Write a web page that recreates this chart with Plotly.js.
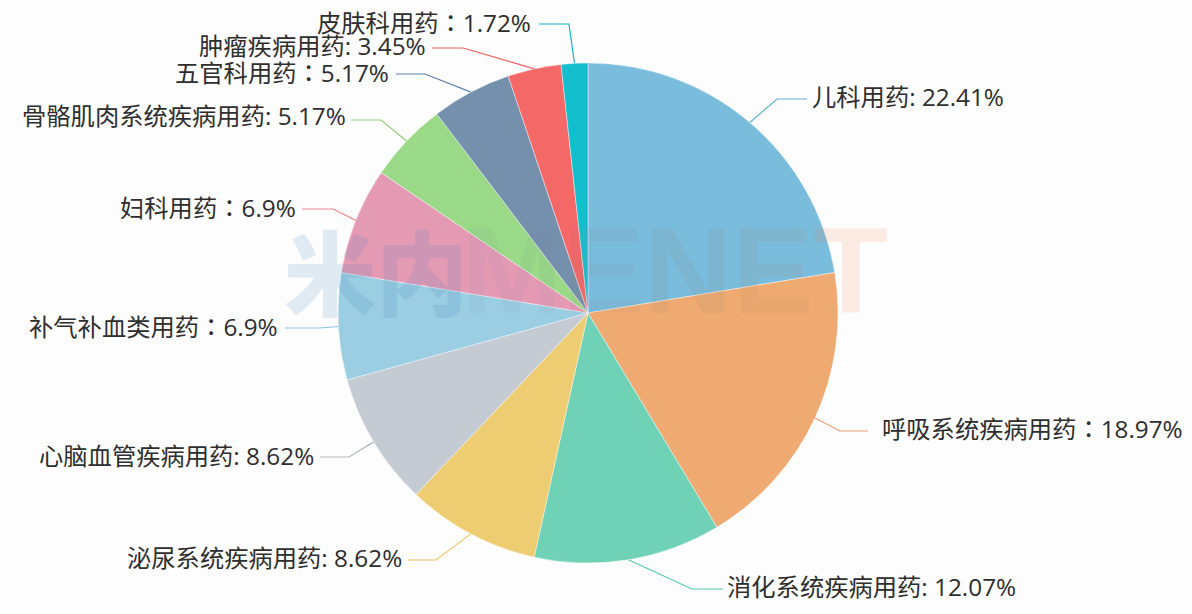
<!DOCTYPE html>
<html><head><meta charset="utf-8">
<script src="https://cdn.plot.ly/plotly-3.0.1.min.js"></script>
<style>html,body{margin:0;padding:0;background:#fdfdfd}#c{width:1192px;height:614px}</style>
</head><body><div id="c"></div>
<script>
const categories = ['儿科用药','呼吸系统疾病用药','消化系统疾病用药','泌尿系统疾病用药','心脑血管疾病用药','补气补血类用药','妇科用药','骨骼肌肉系统疾病用药','五官科用药','肿瘤疾病用药','皮肤科用药'];
const shares = [22.41,18.97,12.07,8.62,8.62,6.9,6.9,5.17,5.17,3.45,1.72];
const separators = [': ','：',': ',': ',': ','：','：',': ','：',': ','：'];
const sliceColors = ['#79bcdc','#eeaa71','#6fd1b5','#eecd72','#c4cbd3','#9bcee3','#e59ab4','#9ad988','#7590ad','#f56868','#14bfcd'];
const leaderColors = ['#5fb0d6','#f0a070','#55c8b0','#f0c468','#b4b8be','#88c4de','#ee8a90','#8fce78','#5c82ac','#f06060','#14b4cc'];
// label layout in pixels: text anchor, elbow and outer end of each leader line
const labelAnchors = [[812,97,'left'],[882,427,'left'],[727,586,'left'],[402,557,'right'],[314,455,'right'],[278,325,'right'],[296,207,'right'],[346,116,'right'],[389,71,'right'],[426,45,'right'],[531,21,'right']];
const leaderBends = [[777,99],[840,431],[692,589],[436,560],[349,457],[320,328],[333,209],[381,120],[425,74],[463,48],[569,24]];
const leaderEnds = [[807,99],[868,431],[723,589],[408,560],[320,457],[285,328],[302,209],[351,120],[396,74],[432,48],[539,24]];

const W = 1192, H = 614, cx = 588, cy = 313, R = 250;
const px = x => x / W, py = y => 1 - y / H;
const total = shares.reduce((a, b) => a + b, 0);
let cum = 0;
const edge = shares.map(v => {
  const a = (cum + v / 2) / total * 2 * Math.PI; cum += v;
  return [cx + R * Math.sin(a), cy - R * Math.cos(a)];
});
const shapes = edge.map((p, i) => ({
  type: 'path', xref: 'paper', yref: 'paper', layer: 'below',
  path: `M${px(p[0])},${py(p[1])} L${px(leaderBends[i][0])},${py(leaderBends[i][1])} L${px(leaderEnds[i][0])},${py(leaderEnds[i][1])}`,
  line: {color: leaderColors[i], width: 1.2}
}));
const fmtSep = s => s === '：' ? '<span style="font-family:\'Noto Sans CJK TC\'">：</span>' : s;
const annotations = categories.map((c, i) => ({
  xref: 'paper', yref: 'paper', x: px(labelAnchors[i][0]), y: py(labelAnchors[i][1]),
  xanchor: labelAnchors[i][2], yanchor: 'middle', showarrow: false,
  borderpad: 0, borderwidth: 0,
  text: c + fmtSep(separators[i]) + shares[i] + '%',
  font: {family: '"Open Sans","Noto Sans CJK SC",sans-serif', size: 24.3, color: '#2e2e2e'}
}));
annotations.push({
  xref: 'paper', yref: 'paper', x: px(376), y: py(268), xanchor: 'center', yanchor: 'middle', showarrow: false,
  text: '<span style="color:rgba(60,130,180,0.15)">米内</span>',
  font: {family: '"Noto Sans CJK SC",sans-serif', size: 92, weight: 900}
});
annotations.push({
  xref: 'paper', yref: 'paper', x: px(890), y: py(271), xanchor: 'right', yanchor: 'middle', showarrow: false,
  text: '<span style="color:rgba(110,130,160,0.07)">M</span><span style="color:rgba(150,130,130,0.08)">E</span><span style="color:rgba(150,130,110,0.10)">N</span><span style="color:rgba(190,130,90,0.10)">E</span><span style="color:rgba(240,130,70,0.14)">T</span>',
  font: {family: '"Liberation Sans",sans-serif', size: 122, weight: 700}
});

Plotly.newPlot('c', [{
  type: 'pie', labels: categories, values: shares, sort: false, direction: 'clockwise', rotation: 0,
  textinfo: 'none', hoverinfo: 'label+percent', automargin: false,
  domain: {x: [px(cx - R), px(cx + R)], y: [py(cy + R), py(cy - R)]},
  marker: {colors: sliceColors, line: {color: 'rgba(255,255,255,0.4)', width: 1}}
}], {
  width: W, height: H, margin: {l: 0, r: 0, t: 0, b: 0}, showlegend: false,
  paper_bgcolor: '#fdfdfd', plot_bgcolor: '#fdfdfd', shapes, annotations
}, {displayModeBar: false, staticPlot: true});
</script></body></html>
